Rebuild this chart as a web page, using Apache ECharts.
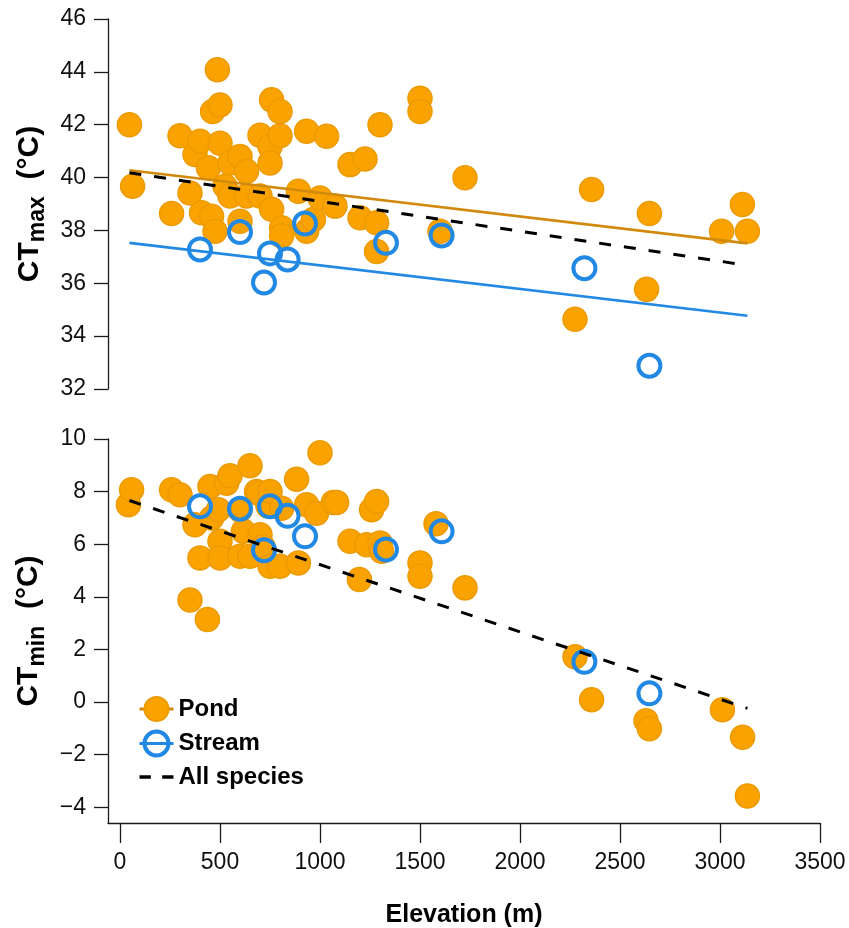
<!DOCTYPE html>
<html>
<head>
<meta charset="utf-8">
<title>CTmax / CTmin vs elevation</title>
<script src="https://cdn.jsdelivr.net/npm/echarts@6/dist/echarts.min.js"></script>
<style>
    html, body { margin: 0; padding: 0; background: #fff; }
    #thermal_chart { width: 849px; height: 928px; }
</style>
</head>
<body>
<div id="thermal_chart"></div>
<script>

// Chart data
// ------------------------------

var elevationTicks = [0, 500, 1000, 1500, 2000, 2500, 3000, 3500];
var ctminTicks = [-4, -2, 0, 2, 4, 6, 8, 10];

// Pond species, [elevation, CTmax]
var pondCtmax = [
    [47, 42.0], [63, 39.67], [258, 38.64], [300, 41.58], [350, 39.42], [375, 40.87],
    [400, 41.37], [408, 38.67], [442, 40.37], [458, 38.54], [463, 42.5], [475, 37.97],
    [487, 44.08], [500, 42.75], [500, 41.3], [525, 39.67], [550, 40.55], [550, 39.3],
    [600, 40.8], [600, 38.35], [633, 40.24], [633, 39.3], [700, 41.6], [700, 39.3],
    [750, 41.18], [750, 40.55], [758, 42.94], [758, 38.8], [800, 42.5], [800, 41.58],
    [808, 38.1], [808, 37.8], [892, 39.48], [933, 41.75], [933, 37.97], [967, 38.41],
    [1000, 39.23], [1033, 41.56], [1075, 38.92], [1150, 40.49], [1200, 38.48], [1225, 40.7],
    [1283, 38.29], [1283, 37.2], [1300, 42.0], [1500, 43.0], [1500, 42.5], [1600, 37.97],
    [1725, 39.99], [2275, 34.64], [2358, 39.55], [2633, 35.77], [2647, 38.64], [3008, 37.97],
    [3112, 38.98], [3137, 37.97]
];

// Pond species, [elevation, CTmin]
var pondCtmin = [
    [42, 7.5], [58, 8.07], [258, 8.07], [300, 7.88], [350, 3.88], [375, 6.74],
    [400, 5.48], [437, 3.14], [450, 8.19], [458, 7.0], [492, 7.31], [500, 6.11],
    [500, 5.48], [533, 8.32], [550, 8.6], [600, 5.54], [600, 7.3], [617, 6.49],
    [650, 8.98], [650, 5.54], [683, 8.0], [692, 7.94], [700, 6.36], [715, 5.9],
    [740, 7.45], [750, 8.0], [750, 5.16], [800, 5.16], [808, 7.37], [883, 8.47],
    [892, 5.29], [933, 7.5], [983, 7.18], [1000, 9.48], [1067, 7.59], [1083, 7.59],
    [1150, 6.11], [1197, 4.66], [1233, 5.98], [1258, 7.31], [1283, 7.62], [1300, 6.05],
    [1308, 5.73], [1500, 5.29], [1500, 4.78], [1580, 6.78], [1725, 4.34], [2275, 1.72],
    [2358, 0.09], [2630, -0.71], [2647, -1.02], [3012, -0.29], [3113, -1.34], [3137, -3.57]
];

// Stream species
var streamElevation = [400, 600, 720, 750, 838, 925, 1330, 1608, 2322, 2647];
var streamCtmax = [37.28, 37.94, 36.03, 37.13, 36.9, 38.26, 37.53, 37.81, 36.57, 32.88];
var streamCtmin = [7.44, 7.35, 5.77, 7.44, 7.08, 6.3, 5.8, 6.49, 1.53, 0.33];

// Regression lines (end points)
var fitElevation = [47, 3137];
var pondFitCtmax = [40.28, 37.51];
var streamFitCtmax = [37.53, 34.77];
var allFitCtmax = [40.18, 36.68];
var allFitCtmin = [7.66, -0.24];


// Setup module
// ------------------------------

var ThermalLimitsChart = function() {

    var pairs = function(xs, ys) {
        return xs.map(function(x, i) { return [x, ys[i]]; });
    };

    // Plain numbers, true minus sign
    var tickFormat = function(v) {
        return String(v).replace('-', '\u2212');
    };

    var _thermalLimits = function() {
        if (typeof echarts == 'undefined') {
            console.warn('Warning - echarts.min.js is not loaded.');
            return;
        }

        var chart_element = document.getElementById('thermal_chart');
        if (!chart_element) {
            return;
        }

        var chart = echarts.init(chart_element, null, { renderer: 'canvas' });

        var font = 'Liberation Sans, Arial, Helvetica, sans-serif';
        var axisColor = '#1a1a1a';
        var orange = '#FAA300';
        var orangeEdge = '#EC9A00';
        var orangeLine = '#D18A0E';
        var blue = '#2188E4';

        var nameStyle = {
            fontFamily: font,
            rich: {
                a: { fontSize: 30, fontWeight: 'bold', color: '#000', fontFamily: font, lineHeight: 40 },
                s: { fontSize: 23, fontWeight: 'bold', color: '#000', fontFamily: font, verticalAlign: 'bottom', lineHeight: 23 }
            }
        };

        var yAxisBase = function() {
            return {
                type: 'value',
                nameLocation: 'middle',
                nameRotate: 90,
                nameGap: 50,
                nameTextStyle: nameStyle,
                axisLine: { show: true, onZero: false, lineStyle: { color: axisColor, width: 1.3 } },
                axisTick: { show: true, inside: false, length: 14, lineStyle: { color: axisColor, width: 1.3 } },
                axisLabel: { color: '#111', fontSize: 23, fontFamily: font, margin: 22, formatter: tickFormat },
                splitLine: { show: false }
            };
        };

        var topY = yAxisBase();
        topY.gridIndex = 0;
        topY.min = 32;
        topY.max = 46;
        topY.interval = 2;
        topY.name = '{a|CT}{s|max}{a|  (°C)}';

        var bottomY = yAxisBase();
        bottomY.gridIndex = 1;
        bottomY.min = -4.6;
        bottomY.max = 10;
        bottomY.name = '{a|CT}{s|min}{a|  (°C)}';
        bottomY.axisTick.customValues = ctminTicks;
        bottomY.axisLabel.customValues = ctminTicks;

        chart.setOption({

            animation: false,
            backgroundColor: '#fff',

            textStyle: {
                fontFamily: font
            },

            // Two stacked panels
            grid: [
                { left: 108, right: 29, top: 19, height: 370, outerBoundsMode: 'none' },
                { left: 108, right: 29, top: 439, height: 384, outerBoundsMode: 'none' }
            ],

            // Legend
            legend: {
                orient: 'vertical',
                left: 138,
                top: 696,
                padding: 0,
                itemWidth: 34,
                itemHeight: 30,
                itemGap: 7.5,
                lineStyle: { width: 3 },
                textStyle: { fontSize: 24, fontWeight: 'bold', color: '#000', fontFamily: font },
                data: [
                    { name: 'Pond' },
                    { name: 'Stream', itemStyle: { borderWidth: 4, color: 'rgba(0,0,0,0)', borderColor: blue } },
                    { name: 'All species', icon: 'path://M0,0h11v3.2h-11zM22,0h11v3.2h-11z', itemStyle: { color: '#000' } }
                ]
            },

            xAxis: [{
                type: 'value',
                gridIndex: 0,
                min: -60,
                max: 3500,
                show: false
            }, {
                type: 'value',
                gridIndex: 1,
                min: -60,
                max: 3500,
                name: 'Elevation (m)',
                nameLocation: 'middle',
                nameGap: 80,
                nameTextStyle: { fontSize: 25, fontWeight: 'bold', color: '#000', fontFamily: font },
                axisLine: { show: true, onZero: false, lineStyle: { color: axisColor, width: 1.3 } },
                axisTick: { show: true, length: 20, customValues: elevationTicks, lineStyle: { color: axisColor, width: 1.3 } },
                axisLabel: { color: '#111', fontSize: 23, fontFamily: font, margin: 28, customValues: elevationTicks, formatter: tickFormat },
                splitLine: { show: false }
            }],

            yAxis: [topY, bottomY],

            series: [
                // Fit lines first so the legend icons come from them
                {
                    name: 'Pond',
                    type: 'line',
                    xAxisIndex: 0,
                    yAxisIndex: 0,
                    z: 4,
                    symbol: 'circle',
                    showSymbol: false,
                    itemStyle: { color: orange, borderColor: orangeEdge, borderWidth: 1 },
                    lineStyle: { color: orangeLine, width: 2.6 },
                    data: pairs(fitElevation, pondFitCtmax)
                },
                {
                    name: 'Stream',
                    type: 'line',
                    xAxisIndex: 0,
                    yAxisIndex: 0,
                    z: 4,
                    symbol: 'circle',
                    showSymbol: false,
                    itemStyle: { color: 'rgba(0,0,0,0)', borderColor: blue, borderWidth: 4 },
                    lineStyle: { color: blue, width: 2.6 },
                    data: pairs(fitElevation, streamFitCtmax)
                },
                {
                    name: 'All species',
                    type: 'line',
                    xAxisIndex: 0,
                    yAxisIndex: 0,
                    z: 5,
                    symbol: 'none',
                    itemStyle: { color: '#000' },
                    lineStyle: { color: '#000', width: 3, type: [12, 13] },
                    data: pairs(fitElevation, allFitCtmax)
                },
                {
                    name: 'All species',
                    type: 'line',
                    xAxisIndex: 1,
                    yAxisIndex: 1,
                    z: 5,
                    symbol: 'none',
                    itemStyle: { color: '#000' },
                    lineStyle: { color: '#000', width: 3, type: [12, 13] },
                    data: pairs(fitElevation, allFitCtmin)
                },

                // Points
                {
                    name: 'Pond',
                    type: 'scatter',
                    xAxisIndex: 0,
                    yAxisIndex: 0,
                    z: 2,
                    symbolSize: 24,
                    itemStyle: { color: orange, borderColor: orangeEdge, borderWidth: 1.5, opacity: 1 },
                    data: pondCtmax
                },
                {
                    name: 'Pond',
                    type: 'scatter',
                    xAxisIndex: 1,
                    yAxisIndex: 1,
                    z: 2,
                    symbolSize: 24,
                    itemStyle: { color: orange, borderColor: orangeEdge, borderWidth: 1.5, opacity: 1 },
                    data: pondCtmin
                },
                {
                    name: 'Stream',
                    type: 'scatter',
                    xAxisIndex: 0,
                    yAxisIndex: 0,
                    z: 3,
                    symbolSize: 22,
                    itemStyle: { color: 'rgba(0,0,0,0)', borderColor: blue, borderWidth: 4, opacity: 1 },
                    data: pairs(streamElevation, streamCtmax)
                },
                {
                    name: 'Stream',
                    type: 'scatter',
                    xAxisIndex: 1,
                    yAxisIndex: 1,
                    z: 3,
                    symbolSize: 22,
                    itemStyle: { color: 'rgba(0,0,0,0)', borderColor: blue, borderWidth: 4, opacity: 1 },
                    data: pairs(streamElevation, streamCtmin)
                }
            ]
        });

        // On window resize
        var resizeChart;
        window.addEventListener('resize', function() {
            clearTimeout(resizeChart);
            resizeChart = setTimeout(function () {
                chart.resize();
            }, 200);
        });
    };

    return {
        init: function() {
            _thermalLimits();
        }
    }
}();


// Initialize module
// ------------------------------

document.addEventListener('DOMContentLoaded', function() {
    ThermalLimitsChart.init();
});
</script>
</body>
</html>
